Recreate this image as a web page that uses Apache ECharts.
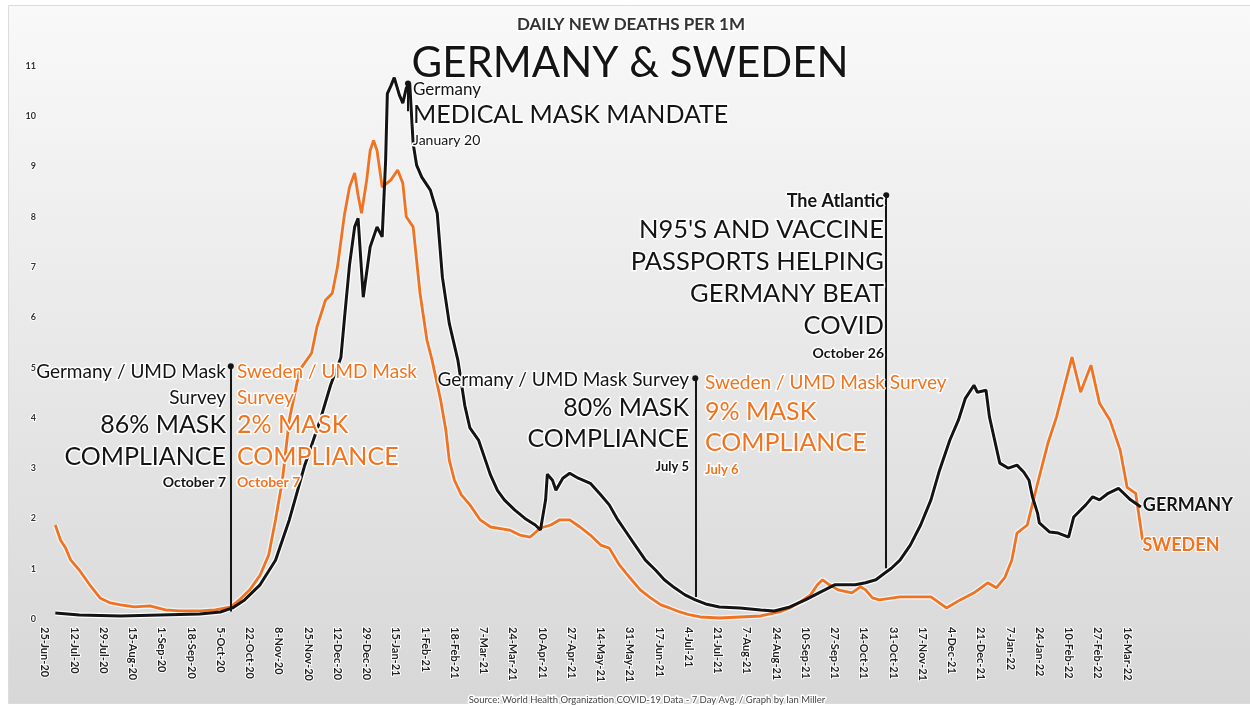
<!DOCTYPE html>
<html>
<head>
<meta charset="utf-8">
<script src="https://cdn.jsdelivr.net/npm/echarts@6/dist/echarts.min.js"></script>
<style>
html, body { margin: 0; padding: 0; background: #fff; }
#chart { width: 1250px; height: 705px; }
</style>
</head>
<body>
<div id="chart"></div>
<script>
// x axis = days since 25-Jun-20, one tick label every 17 days
var tickLabels = ['25-Jun-20', '12-Jul-20', '29-Jul-20', '15-Aug-20', '1-Sep-20', '18-Sep-20', '5-Oct-20',
    '22-Oct-20', '8-Nov-20', '25-Nov-20', '12-Dec-20', '29-Dec-20', '15-Jan-21', '1-Feb-21', '18-Feb-21',
    '7-Mar-21', '24-Mar-21', '10-Apr-21', '27-Apr-21', '14-May-21', '31-May-21', '17-Jun-21', '4-Jul-21',
    '21-Jul-21', '7-Aug-21', '24-Aug-21', '10-Sep-21', '27-Sep-21', '14-Oct-21', '31-Oct-21', '17-Nov-21',
    '4-Dec-21', '21-Dec-21', '7-Jan-22', '24-Jan-22', '10-Feb-22', '27-Feb-22', '16-Mar-22'];

// Germany, daily new deaths per 1M (7 day avg)
var gerDays = [6, 20, 44, 67, 90, 102, 109, 116, 125, 134,
    142, 151, 160, 166, 172, 174, 177, 180, 182, 185,
    189, 193, 196, 198, 199, 201, 203, 206, 208, 210,
    212, 214, 216, 219, 224, 228, 231, 235, 240, 244,
    247, 252, 256, 259, 263, 267, 273, 279, 285, 288,
    291, 292, 295, 297, 301, 305, 310, 317, 323, 328,
    333, 337, 343, 349, 355, 360, 366, 372, 378, 384,
    392, 404, 416, 424, 433, 442, 451, 459, 465, 471,
    477, 483, 488, 492, 497, 503, 509, 515, 520, 526,
    531, 535, 540, 542, 547, 549, 552, 555, 560, 565,
    569, 572, 574, 577, 578, 584, 589, 595, 598, 605,
    609, 613, 618, 624, 631, 637];
var gerVals = [0.12, 0.08, 0.06, 0.08, 0.10, 0.14, 0.22, 0.38, 0.68, 1.17,
    1.97, 3.06, 3.96, 4.65, 5.2, 5.95, 7.04, 7.8, 7.97, 6.4,
    7.4, 7.8, 7.6, 9.12, 10.45, 10.6, 10.77, 10.42, 10.26, 10.56,
    10.66, 9.46, 9.03, 8.79, 8.53, 8.07, 6.8, 5.88, 5.15, 4.25,
    3.8, 3.56, 3.16, 2.86, 2.56, 2.37, 2.17, 2.0, 1.87, 1.77,
    2.37, 2.88, 2.76, 2.56, 2.8, 2.9, 2.8, 2.7, 2.47, 2.27,
    1.97, 1.77, 1.47, 1.17, 0.97, 0.78, 0.62, 0.48, 0.38, 0.3,
    0.24, 0.22, 0.18, 0.16, 0.24, 0.38, 0.54, 0.68, 0.68, 0.68,
    0.72, 0.78, 0.91, 1.01, 1.17, 1.47, 1.87, 2.37, 2.96, 3.56,
    3.96, 4.39, 4.65, 4.51, 4.55, 4.02, 3.56, 3.1, 3.0, 3.06,
    2.92, 2.76, 2.43, 2.1, 1.91, 1.73, 1.71, 1.63, 2.03, 2.27,
    2.43, 2.37, 2.5, 2.6, 2.37, 2.23];

// Sweden
var sweDays = [6, 9, 12, 15, 20, 26, 32, 38, 44, 52,
    61, 70, 78, 90, 99, 108, 113, 119, 125, 130,
    134, 138, 142, 148, 155, 158, 163, 167, 170, 174,
    177, 180, 182, 184, 187, 189, 191, 193, 196, 201,
    205, 208, 210, 214, 218, 222, 225, 230, 233, 235,
    238, 242, 247, 253, 259, 270, 276, 282, 288, 294,
    299, 305, 311, 317, 323, 328, 334, 340, 346, 352,
    358, 363, 369, 375, 381, 392, 404, 416, 427, 433,
    439, 445, 449, 452, 456, 461, 469, 474, 477, 481,
    485, 497, 505, 515, 524, 532, 540, 548, 553, 558,
    562, 565, 571, 577, 583, 588, 592, 597, 602, 608,
    613, 619, 625, 629, 634, 638];
var sweVals = [1.87, 1.57, 1.41, 1.17, 0.97, 0.68, 0.42, 0.32, 0.28, 0.24,
    0.26, 0.18, 0.16, 0.16, 0.18, 0.24, 0.38, 0.58, 0.87, 1.27,
    1.97, 2.76, 3.96, 4.95, 5.29, 5.8, 6.34, 6.48, 7.0, 8.03,
    8.59, 8.87, 8.43, 8.07, 8.73, 9.32, 9.52, 9.32, 8.59, 8.73,
    8.93, 8.67, 8.0, 7.8, 6.48, 5.55, 5.15, 4.35, 3.76, 3.16,
    2.76, 2.47, 2.27, 1.97, 1.83, 1.77, 1.67, 1.63, 1.81, 1.87,
    1.97, 1.97, 1.83, 1.67, 1.47, 1.41, 1.07, 0.82, 0.58, 0.42,
    0.28, 0.22, 0.14, 0.08, 0.04, 0.02, 0.04, 0.06, 0.14, 0.22,
    0.34, 0.48, 0.68, 0.78, 0.68, 0.58, 0.52, 0.64, 0.58, 0.42,
    0.38, 0.44, 0.44, 0.44, 0.22, 0.38, 0.52, 0.72, 0.62, 0.83,
    1.17, 1.71, 1.87, 2.7, 3.5, 4.02, 4.55, 5.21, 4.51, 5.05,
    4.29, 3.96, 3.36, 2.62, 2.5, 1.57];

// annotation pins: day, bottom value, top value
var noteDays = [108, 211, 378, 489];
var noteLow = [0.15, 10.1, 0.44, 1.01];
var noteHigh = [5.03, 10.65, 4.79, 8.43];

var FONT = 'Lato';
var BLACK = '#141414';
var ORANGE = '#f2731f';

function pairs(xs, ys) {
    var out = [];
    for (var i = 0; i < xs.length; i++) out.push([xs[i], ys[i]]);
    return out;
}

// text with white halo
function txt(t, x, y, size, color, align, weight) {
    return {
        type: 'text', x: x, y: y, z: 50,
        style: {
            text: t,
            font: (weight || 'normal') + ' ' + size + 'px ' + FONT,
            fill: color,
            align: align, textAlign: align,
            verticalAlign: 'middle', textVerticalAlign: 'middle',
            stroke: '#fff', lineWidth: 3
        }
    };
}

var chart = echarts.init(document.getElementById('chart'));

var notes = [
    // headings
    txt('DAILY NEW DEATHS PER 1M', 631, 25, 17, '#333', 'center', 'bold'),
    txt('GERMANY & SWEDEN', 630, 63, 42, BLACK, 'center'),
    txt('Germany', 413, 90, 17, BLACK, 'left'),
    txt('MEDICAL MASK MANDATE', 413, 115, 25, BLACK, 'left'),
    txt('January 20', 413, 140, 14, BLACK, 'left'),
    // October 2020 surveys
    txt('Germany / UMD Mask', 226, 372, 19, BLACK, 'right'),
    txt('Survey', 226, 398, 19, BLACK, 'right'),
    txt('86% MASK', 226, 425, 25, BLACK, 'right'),
    txt('COMPLIANCE', 226, 457, 25, BLACK, 'right'),
    txt('October 7', 226, 482, 14, BLACK, 'right', 'bold'),
    txt('Sweden / UMD Mask', 237, 372, 19, ORANGE, 'left'),
    txt('Survey', 237, 398, 19, ORANGE, 'left'),
    txt('2% MASK', 237, 425, 25, ORANGE, 'left'),
    txt('COMPLIANCE', 237, 457, 25, ORANGE, 'left'),
    txt('October 7', 237, 482, 14, ORANGE, 'left', 'bold'),
    // July 2021 surveys
    txt('Germany / UMD Mask Survey', 689, 380, 19, BLACK, 'right'),
    txt('80% MASK', 689, 408, 25, BLACK, 'right'),
    txt('COMPLIANCE', 689, 439, 25, BLACK, 'right'),
    txt('July 5', 689, 467, 13, BLACK, 'right', 'bold'),
    txt('Sweden / UMD Mask Survey', 705, 383, 19, ORANGE, 'left'),
    txt('9% MASK', 705, 412, 25, ORANGE, 'left'),
    txt('COMPLIANCE', 705, 443, 25, ORANGE, 'left'),
    txt('July 6', 705, 470, 13, ORANGE, 'left', 'bold'),
    // The Atlantic
    txt('The Atlantic', 884, 201, 18, BLACK, 'right', 'bold'),
    txt("N95'S AND VACCINE", 884, 230, 25.5, BLACK, 'right'),
    txt('PASSPORTS HELPING', 884, 262, 25.5, BLACK, 'right'),
    txt('GERMANY BEAT', 884, 294, 25.5, BLACK, 'right'),
    txt('COVID', 884, 326, 25.5, BLACK, 'right'),
    txt('October 26', 884, 353, 14, BLACK, 'right', 'bold'),
    // source
    txt('Source: World Health Organization COVID-19 Data - 7 Day Avg. / Graph by Ian Miller', 647, 700, 9.5, '#444', 'center')
];

var option = {
    animation: false,
    backgroundColor: '#fff',
    graphic: [{
        type: 'rect', left: 8, top: 5, z: -10, silent: true,
        shape: { width: 1242, height: 698 },
        style: {
            fill: new echarts.graphic.LinearGradient(0, 0, 0, 1, [
                { offset: 0, color: '#f9f9f9' },
                { offset: 0.5, color: '#e8e8e8' },
                { offset: 1, color: '#d7d7d7' }
            ]),
            stroke: '#dcdcdc', lineWidth: 1
        }
    }].concat(notes),
    grid: { left: 45, right: 104, top: 66, bottom: 86 },
    xAxis: {
        type: 'value', min: 0, max: 640, interval: 17,
        axisLine: { show: false }, axisTick: { show: false }, splitLine: { show: false },
        axisLabel: {
            rotate: -90, margin: 8, fontSize: 11, fontWeight: 'bold', fontFamily: FONT,
            color: '#222', textBorderColor: '#fff', textBorderWidth: 2,
            formatter: function (v) {
                var i = v / 17;
                return (i === Math.round(i) && tickLabels[i]) || '';
            }
        }
    },
    yAxis: {
        type: 'value', min: 0, max: 11, interval: 1,
        axisLine: { show: false }, axisTick: { show: false }, splitLine: { show: false },
        axisLabel: {
            margin: 9, fontSize: 9, fontWeight: 'bold', fontFamily: FONT,
            color: '#333', textBorderColor: '#fff', textBorderWidth: 2
        }
    },
    series: [
        {   // halo under Sweden
            type: 'line', data: pairs(sweDays, sweVals), symbol: 'none', silent: true, z: 1,
            lineStyle: { color: '#eef4fa', width: 5.5 }
        },
        {   // halo under Germany
            type: 'line', data: pairs(gerDays, gerVals), symbol: 'none', silent: true, z: 1,
            lineStyle: { color: '#ffffff', width: 5.5 }
        },
        {
            name: 'Sweden', type: 'line', data: pairs(sweDays, sweVals), symbol: 'none', z: 3,
            lineStyle: { color: ORANGE, width: 2.8 },
            endLabel: {
                show: true, formatter: 'SWEDEN', distance: 0, offset: [0, 5],
                color: ORANGE, fontSize: 18, fontFamily: FONT, fontWeight: 'bold',
                textBorderColor: '#fff', textBorderWidth: 2
            }
        },
        {
            name: 'Germany', type: 'line', data: pairs(gerDays, gerVals), symbol: 'none', z: 4,
            lineStyle: { color: BLACK, width: 3 },
            endLabel: {
                show: true, formatter: 'GERMANY', distance: 2, offset: [0, -2],
                color: BLACK, fontSize: 18, fontFamily: FONT, fontWeight: 'bold',
                textBorderColor: '#fff', textBorderWidth: 2
            },
            markLine: {
                silent: true, symbol: ['none', 'circle'], symbolSize: 6,
                lineStyle: { color: BLACK, width: 2, type: 'solid' },
                label: { show: false },
                data: noteDays.map(function (d, i) {
                    return [{ coord: [d, noteLow[i]] }, { coord: [d, noteHigh[i]] }];
                })
            }
        }
    ]
};

chart.setOption(option);
</script>
</body>
</html>
